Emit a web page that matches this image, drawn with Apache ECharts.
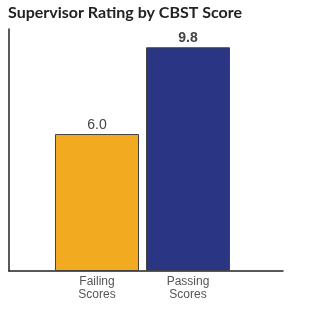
<!DOCTYPE html>
<html><head><meta charset="utf-8">
<script src="https://cdn.jsdelivr.net/npm/echarts@6/dist/echarts.min.js"></script>
<style>html,body{margin:0;padding:0;background:#fff}#c{width:314px;height:313px}</style>
</head><body><div id="c"></div>
<script>
const categories = ['Failing\nScores', 'Passing\nScores'];
const values = [6.0, 9.8];
const barColors = ['#F2AA20', '#2A3584'];
const labelBold = ['normal', 'bold'];
const yMax = 10.6;

const chart = echarts.init(document.getElementById('c'), null, {renderer: 'canvas'});
chart.setOption({
  animation: false,
  title: {
    text: 'Supervisor Rating by CBST Score',
    left: 3, top: 0,
    textStyle: {fontFamily: 'Lato', fontWeight: 'bold', fontSize: 16, color: '#222'}
  },
  grid: [
    {left: 9, right: 31, top: 29, bottom: 42},
    {left: 51.5, width: 182, top: 29, bottom: 42}
  ],
  xAxis: [
    {gridIndex: 0, type: 'value', min: 0, max: 1, axisLine: {show: true, onZero: false, lineStyle: {color: '#222', width: 1.5}}, axisTick: {show: false}, axisLabel: {show: false}, splitLine: {show: false}},
    {gridIndex: 1, type: 'category', data: categories, axisLine: {show: false}, axisTick: {show: false},
     axisLabel: {margin: 4, fontFamily: 'Liberation Sans', fontSize: 12, color: '#555', lineHeight: 13}}
  ],
  yAxis: [
    {gridIndex: 0, type: 'value', min: 0, max: yMax, axisLine: {show: true, lineStyle: {color: '#222', width: 1.5}}, axisTick: {show: false}, axisLabel: {show: false}, splitLine: {show: false}},
    {gridIndex: 1, type: 'value', min: 0, max: yMax, show: false}
  ],
  series: [{
    type: 'bar',
    xAxisIndex: 1, yAxisIndex: 1,
    barWidth: 84,
    data: values.map((v, i) => ({
      value: v,
      itemStyle: {color: barColors[i], borderColor: '#444', borderWidth: 1},
      label: {fontWeight: labelBold[i]}
    })),
    label: {
      show: true, position: 'top', distance: 2,
      formatter: p => p.value.toFixed(1),
      fontFamily: 'Liberation Sans', fontSize: 14, color: '#444'
    }
  }]
});
</script></body></html>
